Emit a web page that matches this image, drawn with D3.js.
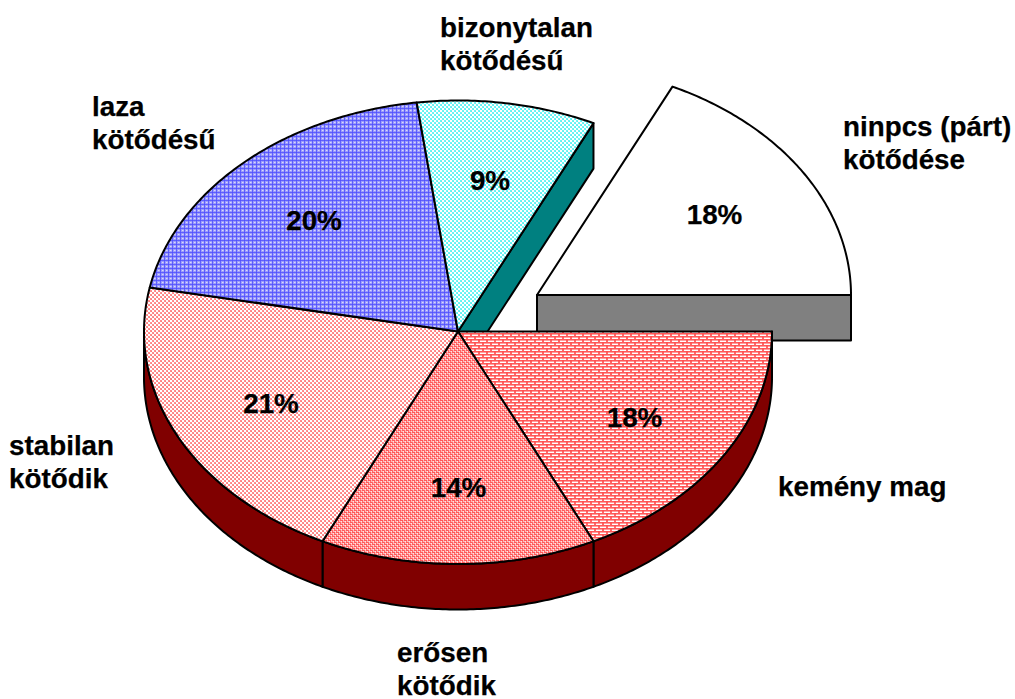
<!DOCTYPE html>
<html><head><meta charset="utf-8">
<script src="https://cdnjs.cloudflare.com/ajax/libs/d3/7.8.5/d3.min.js"></script>
<style>html,body{margin:0;background:#fff}svg{display:block}
text{font-family:"Liberation Sans",Arial,sans-serif;font-weight:bold;font-size:27.8px;fill:#000;stroke:#000;stroke-width:.25px}</style>
</head><body><svg id="c" width="1015" height="699"></svg>
<script>
const categories=[["kemény mag"],["erősen","kötődik"],["stabilan","kötődik"],["laza","kötődésű"],["bizonytalan","kötődésű"],["ninpcs (párt)","kötődése"]];
const values=[17.9,14.2,20.95,19.85,9.2,17.9];
const exploded=[0,0,0,0,0,1];
const topColors=["#ff5050","#ff5050","#ff6060","#5050ff","#30f0f0","#ffffff"];
const sideColors=["#800000","#800000","#800000","#800000","#008080","#808080"];
const patternKinds=["brick","weave","dots","grid","dots","none"];

// layout (separate from data)
const W=1015,H=699,depth=45.5,explodeDx=79,explodeDy=-36.5;
const catAnchors=[[778,496],[397,662],[9,455],[92,116],[440,37],[843,136]];
const valAnchors=[[634.5,427],[458.5,497],[271,413],[314,230],[490,190],[714.5,224]];
const lineGap=33.4;

const x=d3.scaleLinear().domain([-1,0,1]).range([144,458,772]);
const y=d3.scaleLinear().domain([-1,0,1]).range([100.5,331.5,564]);
const pie=d3.pie().sort(null).startAngle(Math.PI/2).endAngle(Math.PI/2+2*Math.PI);
const arcs=pie(values).map((a,i)=>{
  const s=a.startAngle-Math.PI/2,e=a.endAngle-Math.PI/2; // clockwise from east
  return {i,s,e,dx:exploded[i]*explodeDx,dy:exploded[i]*explodeDy};
});
const px=(t,d)=>x(Math.cos(t))+d.dx, py=(t,d)=>y(Math.sin(t))+d.dy;
const line=d3.line();
const arcPts=(d,a,b,off=0)=>{
  const n=Math.max(4,Math.ceil(Math.abs(b-a)*90));
  return d3.range(n+1).map(k=>{const t=a+(b-a)*k/n;return [px(t,d),py(t,d)+off];});
};

const svg=d3.select("#c");
const defs=svg.append("defs");
function addPattern(id,color,kind){
  const sizes={dots:[4,4],grid:[4,4],weave:[4,4],brick:[8,6]};
  const bases={dots:"#fff",grid:"#9c9cfa",weave:"#ffb8b8",brick:"#fff"};
  const [w,h]=sizes[kind];
  const p=defs.append("pattern").attr("id",id).attr("patternUnits","userSpaceOnUse").attr("width",w).attr("height",h);
  p.append("rect").attr("width",w).attr("height",h).attr("fill",bases[kind]);
  const r=(a,b,c,d,o,col=color)=>p.append("rect").attr("x",a).attr("y",b).attr("width",c).attr("height",d).attr("fill",col).attr("fill-opacity",o);
  if(kind==="dots"){r(0,0,2,2,.7);r(2,2,2,2,.7);r(1,1,1,1,.4);r(3,3,1,1,.4);}
  if(kind==="grid"){r(0,0,4,1,.8);r(0,0,1,4,.8);r(2,2,1,1,.8,"#e8e8ff");r(3,2,1,1,.4,"#e8e8ff");}
  if(kind==="weave"){r(0,0,3,1,.9);r(2,2,2,1,.9);r(0,2,1,2,.8);r(2,0,1,2,.7);r(3,3,1,1,.6,"#fff");r(1,1,1,1,.6,"#fff");}
  if(kind==="brick"){r(0,0,8,1,.95);r(0,3,8,1,.95);r(0,1,8,1,.55);r(0,4,8,1,.55);r(2,0,2,3,.85);r(6,3,2,3,.85);}
}
arcs.forEach(d=>{ if(patternKinds[d.i]!=="none") addPattern("pat"+d.i,topColors[d.i],patternKinds[d.i]); });
const fillOf=d=>patternKinds[d.i]==="none"?topColors[d.i]:`url(#pat${d.i})`;

const wedge=d=>line([[x(0)+d.dx,y(0)+d.dy],...arcPts(d,d.s,d.e)])+"Z";
const rim=(d,a,b)=>line([...arcPts(d,a,b),...arcPts(d,b,a,depth)])+"Z";
const cut=(d,t)=>line([[x(0)+d.dx,y(0)+d.dy],[px(t,d),py(t,d)],[px(t,d),py(t,d)+depth],[x(0)+d.dx,y(0)+d.dy+depth]])+"Z";

const g=svg.append("g").attr("stroke","#000").attr("stroke-width",2).attr("stroke-linejoin","round");
const ex=arcs.filter(d=>exploded[d.i]);
const main=arcs.filter(d=>!exploded[d.i]);
ex.forEach(d=>{
  g.append("path").attr("d",cut(d,2*Math.PI)).attr("fill",sideColors[d.i]);
  g.append("path").attr("d",wedge(d)).attr("fill",fillOf(d));
});
main.forEach(d=>{
  if(d.s<Math.PI) g.append("path").attr("d",rim(d,d.s,Math.min(d.e,Math.PI))).attr("fill",sideColors[d.i]);
});
const last=main[main.length-1];
g.append("path").attr("d",cut(last,last.e)).attr("fill",sideColors[last.i]);
main.forEach(d=>{
  g.append("path").attr("d",wedge(d)).attr("fill",fillOf(d));
});
arcs.forEach(d=>{
  const [ax,ay]=catAnchors[d.i];
  const t=svg.append("text").attr("x",ax).attr("y",ay);
  categories[d.i].forEach((s,k)=>t.append("tspan").attr("x",ax).attr("y",ay+k*lineGap).text(s));
});
arcs.forEach(d=>{
  const [ax,ay]=valAnchors[d.i];
  svg.append("text").attr("x",ax).attr("y",ay).attr("text-anchor","middle").text(Math.round(values[d.i])+"%");
});
</script></body></html>
